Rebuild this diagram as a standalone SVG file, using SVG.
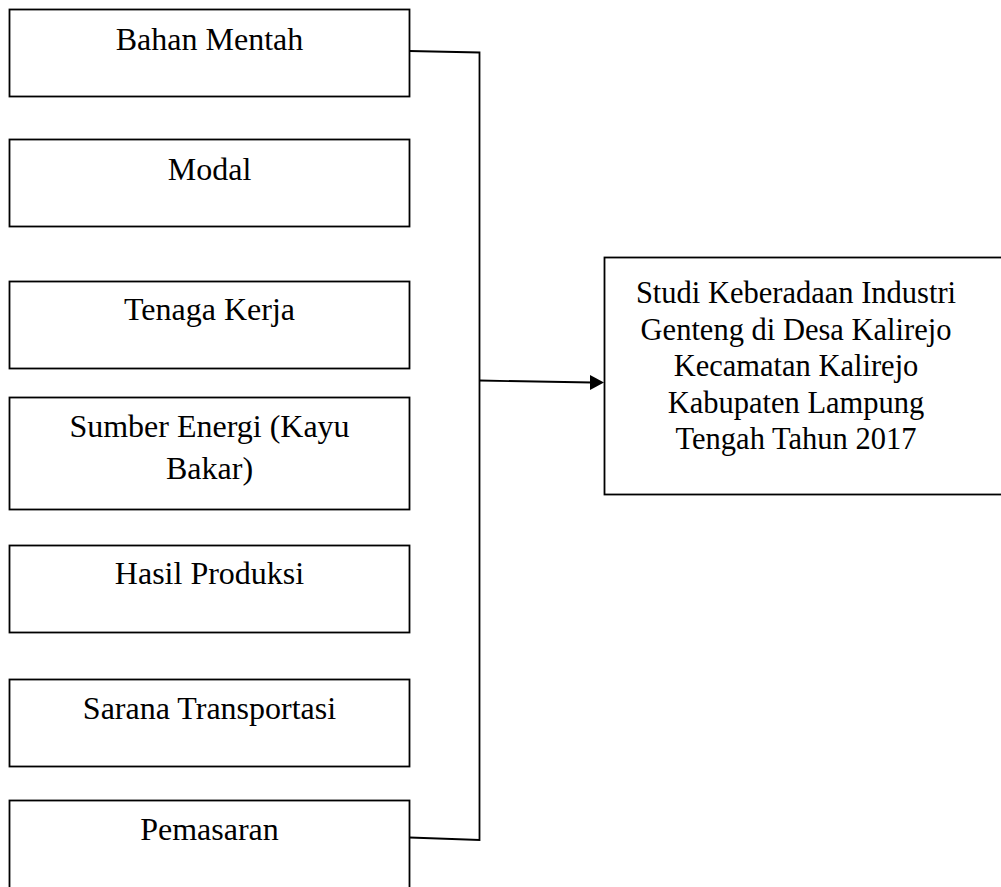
<svg xmlns="http://www.w3.org/2000/svg" width="1001" height="887" viewBox="0 0 1001 887">
<style>
.box{fill:#fff;stroke:#000;stroke-width:1.8}
.t{font-family:"Liberation Serif","Times New Roman",serif;font-size:32px;fill:#000;text-anchor:middle}
.r{font-size:30.5px}
.c{fill:none;stroke:#000;stroke-width:1.8}
</style>
<rect width="1001" height="887" fill="#fff"/>
<g id="n1"><rect class="box" x="9.5" y="9.5" width="400" height="87"/><text class="t" x="209.5" y="50">Bahan Mentah</text></g>
<g id="n2"><rect class="box" x="9.5" y="139.5" width="400" height="87"/><text class="t" x="209.5" y="180">Modal</text></g>
<g id="n3"><rect class="box" x="9.5" y="281.5" width="400" height="87"/><text class="t" x="209.5" y="320">Tenaga Kerja</text></g>
<g id="n4"><rect class="box" x="9.5" y="397.5" width="400" height="112"/><text class="t" x="209.5" y="437">Sumber Energi (Kayu</text><text class="t" x="209.5" y="479">Bakar)</text></g>
<g id="n5"><rect class="box" x="9.5" y="545.5" width="400" height="87"/><text class="t" x="209.5" y="584">Hasil Produksi</text></g>
<g id="n6"><rect class="box" x="9.5" y="679.5" width="400" height="87"/><text class="t" x="209.5" y="719">Sarana Transportasi</text></g>
<g id="n7"><rect class="box" x="9.5" y="800.5" width="400" height="100"/><text class="t" x="209.5" y="840">Pemasaran</text></g>
<g id="n8"><rect class="box" x="604.5" y="257.5" width="410" height="237"/>
<text class="t r" x="796" y="303">Studi Keberadaan Industri</text>
<text class="t r" x="796" y="340">Genteng di Desa Kalirejo</text>
<text class="t r" x="796" y="376">Kecamatan Kalirejo</text>
<text class="t r" x="796" y="413">Kabupaten Lampung</text>
<text class="t r" x="796" y="449">Tengah Tahun 2017</text>
</g>
<g id="connectors">
<polyline class="c" points="409.5,51 479.5,52.5 479.5,840 409.5,837.5"/>
<line class="c" x1="479.5" y1="380.5" x2="592" y2="382.5"/>
<polygon points="590,375 604,382.5 590,390" fill="#000"/>
</g>
</svg>
